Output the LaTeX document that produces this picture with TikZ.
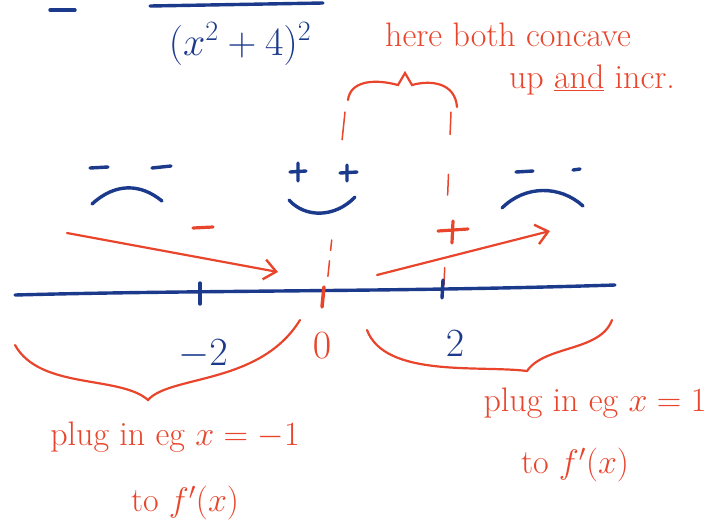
\RequirePackage{fix-cm}
\documentclass[tikz,border=0pt]{standalone}
\usepackage{fontspec}
\usetikzlibrary{arrows.meta,calc}
\definecolor{ink}{HTML}{1B3A8C}
\definecolor{pen}{HTML}{E8452C}
\begin{document}
\begin{tikzpicture}[x=1pt,y=-1pt,
  blueline/.style={ink, line width=3.4pt, line cap=round},
  redline/.style={pen, line width=2.2pt, line cap=round},
  redtext/.style={pen, font=\fontsize{34}{36}\selectfont, inner sep=0pt},
  bluetext/.style={ink, font=\fontsize{40}{42}\selectfont, inner sep=0pt},
  guide/.style={pen, line width=1.5pt, line cap=round},
  arr/.style={redline, -{Straight Barb[length=12pt,width=20pt,line width=2.4pt]}}]
\useasboundingbox (0,0) rectangle (720,523);
% top formula
\draw[blueline] (50,10) -- (75,10);
\draw[blueline] (150,6) -- (323,3);
\node[bluetext, font=\fontsize{40}{42}\selectfont] (den) at (240,44) {$(x^2+4)^2$};
% top comment
\node[redtext] (t1) at (508,35) {here both concave};
\node[redtext] (t2) at (592,80) {up \underline{and} incr.};
\draw[redline] (348,100) .. controls (350,82) and (372,78) .. (398,85) -- (405,73) -- (412,85) .. controls (430,80) and (455,82) .. (457,107);
\coordinate (g1a) at (345,112);
\coordinate (g1b) at (327,285);
\coordinate (g2a) at (451,112);
\coordinate (g2b) at (444,285);
\draw[guide] (g1a) -- ($(g1a)!0.16!(g1b)$) ($(g1a)!0.74!(g1b)$) -- ($(g1a)!0.8!(g1b)$) ($(g1a)!0.86!(g1b)$) -- ($(g1a)!0.95!(g1b)$);
\draw[guide] (g2a) -- ($(g2a)!0.13!(g2b)$) ($(g2a)!0.36!(g2b)$) -- ($(g2a)!0.48!(g2b)$) ($(g2a)!0.9!(g2b)$) -- (g2b);
% faces
\draw[blueline] (90,168) -- (108,167) (152,168) -- (171,166);
\draw[blueline] (92,204) .. controls (115,183) and (140,183) .. (162,201);
\draw[blueline] (290,172) -- (306,171) (298,163) -- (298,181);
\draw[blueline] (340,173) -- (357,172) (347,165) -- (347,181);
\draw[blueline] (289,200) .. controls (305,218) and (335,218) .. (355,197);
\draw[blueline] (516,172) -- (533,171) (573,170) -- (580,169);
\draw[blueline] (502,208) .. controls (525,185) and (560,185) .. (583,206);
% signs and arrows
\draw[redline, line width=3.2pt] (193,228) -- (213,227);
\draw[redline, line width=3.2pt] (438,231) -- (468,229) (453,221) -- (452,243);
\coordinate (a1s) at (67,233);
\coordinate (a1e) at (278,272);
\coordinate (a2s) at (377,275);
\coordinate (a2e) at (550,231);
\draw[arr] (a1s) -- (a1e);
\draw[arr] (a2s) -- (a2e);
% number line
\draw[blueline] (15,295) .. controls (200,290) and (400,292) .. (615,285);
\draw[blueline] (200,283) -- (200,304);
\draw[blueline] (443,280) -- (442,298);
\draw[redline, line width=3.5pt] (324,287) -- (322,307);
% labels
\node[bluetext] (m2) at (203,354) {$-2$};
\node[redtext, font=\fontsize{40}{42}\selectfont] (z) at (322,346) {$0$};
\node[bluetext] (p2) at (455,344) {$2$};
% lower braces
\draw[redline] (15,345) .. controls (40,390) and (120,375) .. (148,400) .. controls (170,375) and (260,385) .. (300,320);
\draw[redline] (367,330) .. controls (385,378) and (480,365) .. (527,371) .. controls (545,345) and (600,352) .. (612,320);
\node[redtext] (l1) at (175,437) {plug in eg $x=-1$};
\node[redtext] (l2) at (185,503) {to $f'(x)$};
\node[redtext] (r1) at (595,403) {plug in eg $x=1$};
\node[redtext] (r2) at (575,465) {to $f'(x)$};
\end{tikzpicture}
\end{document}
